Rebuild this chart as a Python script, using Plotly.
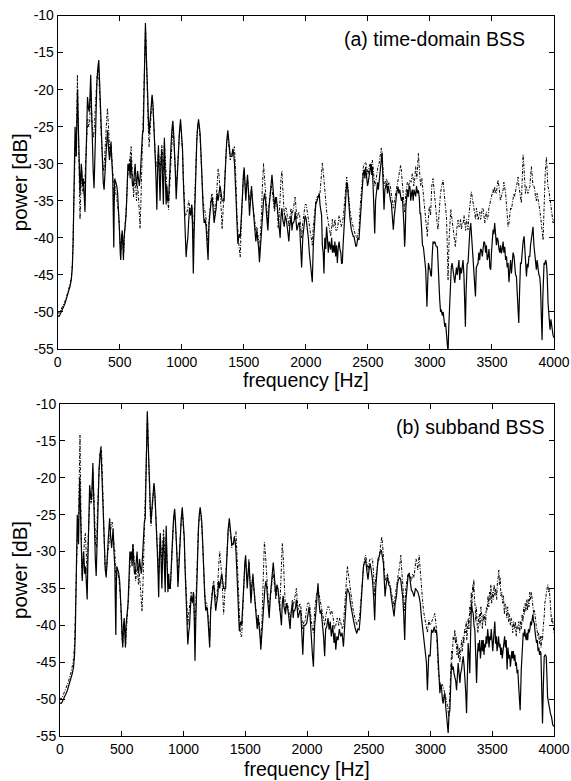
import plotly.graph_objects as go

# ---------------- data (frequency [Hz], power [dB]) ----------------
solid_lo = [(0,-50.5),(10,-50.6),(20,-50.3),(30,-50.0),(40,-49.6),(50,-49.2),(60,-48.8),(70,-48.3),(80,-47.8),(90,-47.2),(100,-46.5),(110,-45.6),(118,-44),(124,-41),(130,-36),(135,-30),(140,-25),(145,-27),(150,-29),(155,-24),(160,-20),(165,-24),(170,-28),(175,-31),(180,-34),(185,-32),(190,-30),(195,-31),(200,-33),(207,-32),(214,-34),(220,-36.5),(226,-31),(232,-25),(240,-21),(248,-22.5),(255,-23),(260,-21),(266,-18),(272,-22),(278,-27),(286,-31),(293,-33.3),(300,-28),(309,-23),(316,-19),(324,-17),(331,-16),(338,-19),(347,-23),(354,-27),(360,-30),(367,-32.5),(374,-33.5),(382,-30),(390,-28.5),(396,-27),(402,-25.5),(410,-28),(418,-29.5),(425,-28),(430,-27),(437,-30),(444,-32),(448,-37),(452,-41.3),(456,-35),(460,-32),(468,-32.5),(476,-33),(483,-34),(490,-36),(498,-39),(504,-42),(508,-43),(514,-40),(520,-39),(525,-41),(530,-43),(535,-40),(542,-39),(551,-37),(560,-33),(566,-30),(572,-31),(578,-30),(584,-32),(590,-29),(596,-31),(603,-33),(610,-33),(617,-31),(624,-30),(630,-32),(637,-33),(644,-31),(651,-32),(658,-33),(664,-32),(670,-30),(677,-28),(683,-26),(690,-25.5),(695,-20),(700,-15),(707,-11),(713,-15),(718,-19),(722,-20),(726,-21),(731,-24),(737,-26),(743,-24.5),(748,-23),(755,-21),(761,-20.7),(768,-22),(777,-25),(783,-28),(788,-30),(794,-33),(799,-36.2),(805,-31),(812,-27.5),(818,-31),(825,-35),(832,-30),(839,-28),(845,-32),(852,-35.5),(856,-30),(860,-26.5),(866,-31),(874,-35.5),(880,-33),(886,-35),(893,-35),(900,-33),(906,-30),(912,-28),(920,-25.5),(928,-24.2),(935,-26),(941,-28),(948,-31),(955,-34.8),(962,-32),(968,-30),(974,-28),(982,-25.5),(990,-24),(998,-26),(1006,-28),(1012,-32),(1019,-36),(1027,-40),(1035,-42.6),(1042,-41),(1049,-40),(1055,-38),(1062,-36),(1068,-36.5),(1073,-37),(1080,-35.5),(1084,-36),(1088,-40),(1093,-44.8),(1100,-39),(1108,-33),(1115,-29),(1121,-27),(1128,-25),(1135,-24),(1142,-25),(1148,-26),(1156,-29),(1164,-33),(1172,-36),(1180,-38),(1188,-37.5),(1196,-38.5),(1204,-41),(1212,-43),(1220,-38),(1229,-36),(1237,-35),(1245,-34.5),(1253,-36),(1261,-38),(1268,-37),(1277,-36),(1285,-34),(1293,-35),(1300,-34),(1309,-33),(1317,-34),(1325,-35),(1333,-35),(1341,-35),(1348,-32),(1355,-29),(1362,-27),(1371,-25.5),(1378,-27),(1384,-28.5),(1391,-29),(1398,-29),(1405,-29),(1411,-28),(1418,-28.5),(1425,-30),(1432,-32),(1438,-35),(1445,-38),(1452,-40.8),(1458,-40),(1464,-39.5),(1471,-40),(1478,-38),(1484,-37),(1490,-34),(1497,-31.5),(1503,-30.5),(1510,-33),(1516,-35),(1523,-33),(1530,-31.5),(1538,-34),(1546,-37),(1554,-35),(1562,-33),(1570,-35),(1578,-36.5),(1588,-38),(1597,-40.5),(1605,-39),(1613,-40),(1620,-41.5),(1626,-43.3),(1634,-41),(1642,-40),(1650,-37),(1659,-35),(1667,-34),(1675,-35),(1684,-37),(1694,-39),(1703,-36),(1712,-34),(1720,-32.5),(1727,-31.5),(1734,-33),(1741,-35),(1748,-36),(1756,-34.5),(1764,-35),(1771,-36),(1779,-37.5),(1786,-39),(1793,-40),(1800,-37),(1807,-36),(1814,-37.5),(1820,-38),(1826,-38.5),(1834,-37),(1842,-37.5),(1850,-38.5),(1857,-39.5),(1863,-40.5),(1870,-38.5),(1876,-37.5),(1882,-37),(1888,-39),(1894,-38),(1901,-38),(1908,-37.5),(1914,-36.5),(1921,-38),(1928,-39),(1935,-38.5),(1942,-38),(1949,-38),(1956,-40),(1966,-44),(1975,-40)]

a_solid_hi = [(1985,-38),(1994,-37),(2003,-37.5),(2012,-38.5),(2020,-40),(2028,-42),(2039,-44.3),(2046,-45),(2052,-46),(2060,-41),(2071,-37),(2080,-35.5),(2092,-34.9),(2100,-34.5),(2108,-34),(2114,-35.5),(2120,-36),(2127,-37),(2133,-41),(2140,-42),(2146,-44.8),(2153,-40),(2160,-41.5),(2167,-38.5),(2174,-40),(2181,-42),(2188,-40.5),(2194,-41),(2200,-41.6),(2208,-40),(2214,-42),(2221,-41),(2227,-42),(2234,-40.5),(2240,-42.5),(2247,-41),(2254,-43.4),(2260,-41.5),(2268,-40.5),(2275,-41.6),(2282,-42),(2288,-43.5),(2294,-43.4),(2300,-41),(2306,-39),(2313,-36.7),(2320,-34),(2329,-32.5),(2336,-33),(2342,-34.5),(2348,-36.2),(2356,-37.5),(2367,-38.9),(2375,-39.5),(2382,-39.8),(2388,-39.8),(2396,-40.5),(2403,-41.2),(2410,-41),(2418,-40),(2428,-40.3),(2436,-38),(2441,-36),(2447,-34.4),(2455,-32.5),(2463,-31.3),(2470,-30.8),(2476,-32),(2482,-30.4),(2490,-31.5),(2497,-33),(2503,-32.5),(2510,-31.5),(2517,-31.3),(2524,-30),(2530,-31.5),(2536,-30.4),(2542,-33),(2548,-37),(2555,-39.4),(2562,-35),(2571,-33.5),(2578,-32.5),(2584,-33.5),(2590,-32.2),(2597,-31),(2603,-30),(2608,-29.5),(2614,-28.5),(2620,-32),(2626,-35),(2630,-36.2),(2637,-33.5),(2644,-33),(2651,-32.6),(2658,-34),(2664,-33),(2670,-33.5),(2677,-34.5),(2683,-35),(2689,-35.3),(2697,-37),(2705,-38.9),(2713,-37),(2718,-35.5),(2724,-35.3),(2732,-34),(2737,-33.5),(2743,-33.1),(2750,-34),(2757,-33.5),(2764,-34.4),(2771,-35),(2778,-34.5),(2786,-36.2),(2791,-38.5),(2796,-41.2),(2800,-40),(2806,-36),(2812,-33.5),(2818,-33.5),(2825,-34.5),(2832,-33),(2839,-33.1),(2845,-35),(2852,-34),(2858,-33.5),(2865,-35),(2872,-33.5),(2879,-34),(2885,-34.4),(2892,-33),(2900,-34),(2907,-33.6),(2914,-34.5),(2920,-36.7),(2925,-36.7),(2932,-38.5),(2940,-41),(2947,-41.2),(2954,-42),(2960,-43.3),(2966,-44.3),(2972,-47),(2976,-49.3),(2982,-46),(2988,-43.4),(2995,-44),(3001,-44.3),(3006,-45),(3012,-45.2),(3018,-42.5),(3025,-40.5),(3033,-40.7),(3040,-40.5),(3047,-41),(3053,-41.2),(3060,-41.2),(3066,-44),(3072,-47.5),(3079,-48.4),(3086,-50),(3092,-49.7),(3100,-50.5),(3107,-50),(3114,-51.1),(3120,-52),(3126,-51.5),(3133,-52.9),(3140,-54),(3146,-55.5),(3152,-52),(3160,-48.8),(3166,-46),(3172,-44),(3179,-43.4),(3186,-44.5),(3193,-45.5),(3200,-46.1),(3207,-45),(3214,-44),(3220,-45),(3227,-44.3),(3234,-43),(3240,-45.7),(3247,-44),(3254,-44.8),(3260,-43.5),(3267,-43),(3274,-45),(3280,-49),(3286,-52),(3292,-47),(3300,-43.5),(3307,-43.4),(3314,-41),(3322,-39),(3329,-38),(3336,-40),(3342,-42),(3348,-42.5),(3355,-44),(3361,-46),(3367,-47.9),(3374,-44),(3381,-43.5),(3388,-43.4),(3394,-42),(3401,-43),(3408,-41.5),(3415,-41.6),(3422,-42.5),(3428,-41),(3435,-40.5),(3442,-40.7),(3449,-42),(3455,-41),(3462,-43),(3469,-42.5),(3476,-41.5),(3483,-44),(3490,-44.3),(3496,-42),(3502,-40.5),(3509,-38.9),(3515,-39.5),(3522,-38.0),(3529,-39.5),(3536,-41),(3542,-40),(3549,-40.3),(3556,-41.5),(3563,-42),(3569,-41),(3576,-42.1),(3583,-41.5),(3590,-40.5),(3596,-42),(3603,-41.2),(3610,-43),(3617,-42.5),(3623,-44),(3630,-43.4),(3637,-46),(3643,-44),(3650,-43),(3657,-44.8),(3664,-43.5),(3670,-42),(3678,-42.5),(3684,-44),(3690,-45),(3697,-45.2),(3704,-47),(3710,-49.5),(3716,-51.5),(3723,-47),(3730,-43.4),(3737,-43.4),(3744,-41.5),(3751,-40.5),(3759,-39.8),(3765,-42),(3771,-44),(3778,-45.2),(3785,-43.5),(3791,-44),(3798,-42.5),(3805,-42.5),(3811,-41),(3818,-40),(3825,-39.5),(3831,-38.5),(3838,-41),(3845,-42.5),(3851,-43),(3858,-44.3),(3864,-43),(3871,-44.5),(3878,-45),(3885,-45.2),(3891,-46.5),(3897,-50),(3904,-53.8),(3910,-48),(3915,-44),(3920,-43.4),(3927,-43.5),(3933,-43),(3939,-43.4),(3945,-45),(3952,-48.8),(3958,-50),(3963,-52),(3968,-52.4),(3975,-51),(3981,-51.5),(3987,-52.5),(3993,-53.2),(4000,-53.5)]

a_dotted_lo = [(0,-50.0),(10,-50.2),(20,-49.9),(30,-49.6),(40,-49.3),(50,-48.9),(60,-48.5),(70,-48.0),(80,-47.5),(90,-46.9),(100,-46.2),(110,-45.3),(118,-43.5),(124,-40),(130,-35),(136,-30),(142,-27),(148,-29),(153,-24),(159,-18),(164,-23),(170,-30),(175,-34),(180,-37.5),(186,-34),(192,-31),(198,-33),(205,-34),(212,-33),(220,-32),(227,-29),(234,-25.5),(242,-24),(250,-25),(258,-24.5),(266,-20),(272,-23),(280,-25.5),(288,-26.5),(296,-25),(304,-22),(312,-19),(320,-17.5),(328,-17),(335,-19),(342,-22),(350,-26),(357,-29),(364,-30),(372,-31),(380,-28),(388,-26),(395,-24),(401,-22.5),(408,-25),(415,-28),(422,-29),(430,-27.5),(437,-29),(444,-31),(452,-35),(460,-33),(468,-34),(476,-34.5),(484,-36),(492,-37),(500,-40),(508,-42),(515,-40),(520,-39.5),(526,-40.5),(532,-42),(540,-39),(548,-37.5),(556,-35),(563,-32),(570,-31),(578,-30.5),(585,-29),(592,-27.7),(598,-30),(605,-33.5),(612,-34.5),(620,-32),(627,-32.5),(635,-35),(642,-33),(650,-34),(657,-36.5),(664,-38.7),(671,-35),(678,-30),(685,-27),(692,-24),(698,-17),(703,-13),(708,-11.5),(713,-14),(718,-19.5),(722,-21.5),(726,-23),(731,-25.5),(737,-27.7),(743,-26),(749,-24),(755,-22),(761,-21),(768,-22.5),(777,-26),(785,-28),(792,-30.5),(799,-30),(806,-29),(812,-28.5),(818,-29.5),(825,-31),(832,-29),(839,-27.5),(845,-29),(852,-31),(860,-27),(867,-29.5),(874,-32),(882,-34),(893,-36.2),(900,-34),(907,-31),(914,-28),(921,-26),(928,-25),(935,-26.5),(942,-29),(949,-31),(955,-33),(962,-31.5),(968,-29.5),(975,-27.5),(982,-25.5),(990,-24.5),(998,-26),(1006,-28.5),(1013,-32),(1020,-35),(1027,-37),(1035,-37),(1042,-36.5),(1049,-36),(1055,-35),(1062,-35.5),(1068,-36.5),(1073,-36),(1080,-36.5),(1087,-38),(1093,-40),(1100,-37),(1108,-32),(1115,-28.5),(1121,-26.5),(1128,-25),(1135,-24.5),(1142,-25.5),(1148,-26.5),(1156,-29.5),(1164,-33),(1172,-35),(1180,-36),(1188,-36.5),(1196,-37.5),(1204,-39.5),(1212,-41),(1220,-37.5),(1229,-35.5),(1237,-34.5),(1245,-34),(1253,-35),(1261,-36.5),(1270,-37),(1277,-35),(1285,-32.5),(1293,-30.7),(1300,-31.5),(1309,-33.5),(1317,-36),(1325,-38.8),(1333,-36),(1341,-33),(1348,-30.5),(1355,-28.5),(1362,-27),(1371,-26.5),(1378,-27.5),(1384,-28.5),(1391,-29.5),(1398,-29),(1405,-28.5),(1411,-28.2),(1418,-28),(1425,-27.7),(1432,-30),(1438,-33),(1445,-37),(1452,-40),(1458,-40.5),(1464,-41.5),(1471,-42.6),(1478,-39),(1484,-36),(1490,-33.5),(1497,-31.5),(1503,-31),(1510,-32.5),(1516,-34),(1523,-33),(1530,-32),(1538,-33.5),(1546,-35),(1554,-34),(1562,-33.5),(1570,-35),(1578,-36),(1588,-37.5),(1597,-39),(1605,-38.5),(1613,-39.5),(1620,-40.5),(1626,-42),(1634,-40),(1642,-37),(1650,-33),(1659,-30),(1667,-32),(1675,-34),(1684,-36),(1694,-38),(1703,-35.5),(1712,-34),(1720,-33),(1727,-33.5),(1734,-34.5),(1741,-35),(1748,-36.5),(1756,-35),(1764,-34.5),(1771,-36.5),(1777,-38.7),(1786,-37),(1793,-34),(1800,-32),(1807,-31),(1814,-33.5),(1820,-36),(1826,-37),(1834,-36),(1842,-36),(1850,-37),(1857,-37.5),(1863,-38.5),(1870,-37),(1876,-36.5),(1882,-36),(1888,-37),(1894,-36.5),(1901,-36),(1908,-35),(1914,-34.5),(1921,-36),(1928,-37.5),(1935,-37),(1942,-36.5),(1950,-37),(1958,-38.5),(1966,-40),(1975,-38)]

a_dotted_hi = [(1985,-36.2),(1994,-35.5),(2003,-35.5),(2012,-36.5),(2020,-37.5),(2030,-38.5),(2039,-39.5),(2052,-41),(2060,-38.5),(2071,-36),(2080,-35),(2092,-34.4),(2100,-34.5),(2114,-34),(2122,-32),(2133,-29.9),(2140,-31),(2146,-32.2),(2153,-34),(2160,-35.3),(2168,-36.5),(2178,-37.6),(2188,-38.5),(2200,-39.8),(2208,-38.5),(2214,-37.5),(2220,-38.5),(2227,-38.5),(2235,-37.5),(2242,-39),(2254,-38.9),(2262,-38),(2268,-37),(2275,-37.5),(2284,-38.5),(2294,-38),(2303,-37),(2313,-35),(2320,-33),(2329,-31.8),(2338,-33),(2348,-35),(2357,-36.5),(2367,-37.5),(2377,-38.5),(2388,-39),(2398,-39.5),(2410,-40),(2419,-39.5),(2428,-39),(2437,-36),(2447,-33.5),(2455,-31.5),(2463,-30.5),(2472,-30),(2482,-29.8),(2491,-30.5),(2501,-31.5),(2509,-30.5),(2517,-30),(2527,-30.5),(2536,-29.5),(2545,-31),(2555,-33),(2563,-32.5),(2571,-31.5),(2580,-30.5),(2590,-30),(2599,-28.8),(2608,-27.9),(2614,-28.5),(2620,-30),(2630,-33),(2640,-32.5),(2651,-32),(2660,-33),(2670,-32.5),(2680,-33),(2689,-34),(2697,-35),(2705,-36),(2714,-35),(2724,-34),(2734,-33.5),(2743,-32.5),(2753,-31.5),(2764,-30.2),(2770,-31),(2775,-32),(2781,-33),(2786,-34),(2791,-35),(2796,-36.5),(2806,-34),(2812,-33),(2818,-32.5),(2828,-33),(2839,-32.2),(2848,-32.5),(2858,-31.3),(2865,-32),(2870,-33),(2878,-32),(2885,-30.4),(2895,-32),(2901,-30.5),(2907,-28.6),(2912,-30),(2918,-31),(2925,-33),(2935,-32),(2947,-34.4),(2958,-36.5),(2966,-37.6),(2972,-38.5),(2979,-39.8),(2985,-38),(2995,-35.8),(3005,-37),(3015,-33),(3025,-32),(3032,-33.5),(3039,-34.4),(3050,-37),(3058,-38),(3065,-38.9),(3075,-36),(3085,-34),(3095,-33),(3106,-32.2),(3115,-34),(3125,-35.5),(3133,-37.1),(3140,-41),(3146,-45.7),(3155,-40),(3168,-36.2),(3178,-37.5),(3187,-38.9),(3196,-40),(3205,-41.2),(3215,-39),(3227,-37.6),(3234,-38.5),(3240,-38.5),(3247,-37.5),(3254,-38.9),(3261,-38),(3268,-38),(3275,-37),(3281,-38.5),(3288,-39),(3294,-37.5),(3300,-38.5),(3307,-38.9),(3314,-37),(3320,-36),(3327,-35),(3334,-33.8),(3341,-34.5),(3348,-35.5),(3355,-36),(3361,-36.7),(3368,-37.5),(3375,-36),(3381,-37),(3388,-37.6),(3395,-37),(3402,-36.5),(3408,-37.5),(3415,-37.1),(3421,-36),(3428,-36),(3435,-37),(3442,-38.0),(3449,-37),(3455,-36.5),(3462,-37.5),(3469,-37.1),(3475,-36),(3482,-35.5),(3489,-35),(3496,-34.4),(3502,-34),(3509,-33.5),(3515,-34),(3522,-33.1),(3529,-34),(3536,-34),(3542,-33),(3549,-32.2),(3556,-33),(3562,-34),(3569,-35),(3576,-34.4),(3583,-34),(3590,-33.5),(3596,-32.5),(3603,-33.1),(3610,-34),(3617,-35.5),(3623,-37),(3630,-38.5),(3637,-38),(3643,-37),(3650,-36),(3657,-36.2),(3664,-35.5),(3670,-35),(3677,-34),(3684,-34.4),(3690,-33.5),(3697,-33),(3704,-32.5),(3710,-31.8),(3717,-33),(3723,-34),(3730,-34.5),(3737,-35.3),(3744,-32),(3751,-28.8),(3756,-30),(3760,-31.5),(3765,-33),(3770,-34),(3778,-33.1),(3784,-33.5),(3790,-34),(3798,-33.5),(3805,-33.1),(3812,-31.5),(3818,-30.4),(3824,-31.5),(3830,-33),(3838,-33),(3845,-33.5),(3851,-34.5),(3858,-35),(3864,-34),(3870,-34.5),(3878,-35.5),(3885,-36.2),(3891,-37),(3898,-38),(3905,-39.5),(3912,-40.3),(3918,-37),(3924,-33),(3930,-31),(3935,-30),(3939,-29.1),(3945,-31),(3950,-33),(3958,-33.5),(3966,-34.4),(3973,-35.5),(3980,-36.5),(3987,-37),(3993,-38.0),(4000,-37.5)]

b_dotted_lo = [(0,-49.8),(10,-50),(20,-49.7),(30,-49.3),(40,-49),(50,-48.5),(60,-48),(70,-47.5),(80,-47),(90,-46.3),(100,-45.5),(110,-44.5),(118,-42.5),(124,-39),(130,-34),(136,-29),(142,-27),(148,-27.5),(153,-22),(158,-15.5),(162,-14.2),(166,-20),(170,-27),(175,-31),(180,-33.5),(186,-31),(192,-30),(198,-28.5),(205,-27.5),(212,-30),(220,-33),(227,-29),(234,-25),(242,-22.5),(250,-23.5),(258,-23),(266,-19),(272,-21),(280,-25),(288,-29),(296,-29.5),(304,-24),(312,-20),(320,-17.5),(328,-16),(335,-15.7),(342,-19),(350,-25),(357,-28),(364,-32),(372,-33),(380,-32),(388,-30),(395,-29),(401,-28.5),(408,-27.5),(415,-26.5),(422,-26),(430,-27),(437,-29),(444,-30),(452,-34),(460,-33),(468,-33),(476,-33.5),(484,-35),(492,-37),(500,-41),(508,-42.5),(515,-41),(520,-40),(526,-41),(532,-42.5),(540,-40),(548,-38.5),(556,-36),(563,-33),(570,-31),(578,-30.5),(585,-30),(592,-29),(598,-30),(605,-32),(612,-34),(620,-33),(627,-32),(635,-34.5),(642,-33),(650,-34.5),(657,-36.5),(664,-38.1),(671,-35),(678,-30),(685,-27),(692,-24),(698,-17),(703,-12.5),(708,-11.3),(713,-14),(718,-19),(722,-21),(726,-22.5),(731,-25),(737,-26.5),(743,-25),(749,-23),(755,-21.5),(761,-21),(768,-22.5),(777,-25.5),(785,-28),(792,-31),(799,-33),(806,-30),(812,-28),(818,-29.5),(825,-32),(832,-29),(839,-27),(845,-29.5),(852,-33),(860,-28),(867,-31),(874,-34),(882,-34.5),(893,-35),(900,-33),(907,-30),(914,-27.5),(921,-25.5),(928,-24.5),(935,-26),(942,-28.5),(949,-31),(955,-34),(962,-31.5),(968,-29.5),(975,-27.5),(982,-25.5),(990,-24.5),(998,-26),(1006,-28.5),(1013,-32),(1020,-35.5),(1027,-38.5),(1035,-40),(1042,-38.5),(1049,-37.5),(1055,-36.5),(1062,-35.5),(1068,-36),(1073,-36.5),(1080,-36),(1087,-38.5),(1093,-41),(1100,-37),(1108,-32.5),(1115,-28.5),(1121,-26.5),(1128,-25),(1135,-24.3),(1142,-25.3),(1148,-26.5),(1156,-29.5),(1164,-33),(1172,-35.5),(1180,-37),(1188,-37),(1196,-38),(1204,-40),(1212,-42),(1220,-38),(1229,-35.5),(1237,-34.5),(1245,-34),(1253,-35),(1261,-36.5),(1270,-36.5),(1277,-35),(1285,-32),(1293,-30),(1300,-31),(1309,-33),(1317,-35.5),(1325,-38.5),(1333,-36),(1341,-33),(1348,-30.5),(1355,-28.5),(1362,-27),(1371,-26),(1378,-27.5),(1384,-28.5),(1391,-29.5),(1398,-29),(1405,-28.5),(1411,-28),(1418,-27.5),(1425,-27.3),(1432,-30),(1438,-33),(1445,-37),(1452,-40),(1458,-40.5),(1464,-41.5),(1471,-41.5),(1478,-39),(1484,-36),(1490,-33.5),(1497,-31.5),(1503,-31),(1510,-32.5),(1516,-34),(1523,-33),(1530,-31),(1538,-33.5),(1546,-35.5),(1554,-34),(1562,-33.5),(1570,-35),(1578,-36),(1588,-38),(1597,-39.5),(1605,-38.5),(1613,-39.5),(1620,-41),(1626,-42.5),(1634,-40),(1642,-36),(1650,-31.5),(1655,-28.7),(1662,-30),(1669,-32.5),(1675,-34),(1684,-36),(1694,-38),(1703,-36),(1712,-34.5),(1720,-33.5),(1727,-33),(1734,-34),(1741,-35),(1748,-36.5),(1756,-35),(1764,-35),(1771,-36.5),(1779,-38),(1786,-35),(1793,-31),(1800,-28.9),(1807,-30.5),(1814,-33),(1820,-36),(1826,-38),(1834,-37.5),(1842,-37),(1850,-38),(1857,-38.5),(1863,-39.5),(1870,-38),(1876,-37),(1882,-36.5),(1888,-37.5),(1894,-37),(1901,-36.5),(1908,-35.5),(1914,-35),(1921,-36.5),(1928,-38),(1935,-37.5),(1942,-37),(1950,-37.5),(1958,-39),(1966,-40.5),(1975,-39.5)]

b_solid_hi = [(1985,-40),(1998,-39.7),(2008,-38),(2017,-37.5),(2026,-39),(2035,-42),(2044,-44),(2052,-45.6),(2062,-40),(2071,-38.4),(2080,-36),(2089,-34.3),(2098,-37),(2106,-38.4),(2115,-38),(2125,-39.7),(2134,-41.5),(2143,-44.2),(2151,-40.5),(2160,-40.2),(2170,-39),(2179,-40.6),(2188,-39.5),(2197,-41.5),(2208,-40),(2219,-42.4),(2226,-41),(2233,-43.3),(2242,-41.5),(2251,-42),(2262,-40.5),(2273,-41.5),(2284,-41),(2295,-42.9),(2304,-40),(2314,-37.5),(2320,-36),(2327,-35),(2335,-35.5),(2343,-35.7),(2351,-37),(2359,-37.9),(2370,-39),(2381,-39.7),(2392,-40.5),(2403,-41.1),(2412,-40.5),(2422,-40.6),(2431,-39),(2440,-37),(2448,-34),(2457,-32),(2466,-31.5),(2475,-31.1),(2484,-32.5),(2494,-33.8),(2502,-32.5),(2511,-31.6),(2520,-32.5),(2530,-33.8),(2539,-36),(2548,-39.3),(2556,-35),(2565,-32.9),(2575,-31),(2584,-30.7),(2593,-30),(2602,-29.8),(2610,-30.5),(2619,-31.6),(2626,-34),(2632,-36.1),(2641,-34.5),(2651,-33.4),(2662,-34.5),(2673,-34.8),(2681,-36),(2689,-37),(2697,-38),(2705,-38.8),(2714,-37),(2724,-36.1),(2732,-34.5),(2740,-33.8),(2750,-33.5),(2759,-33.8),(2767,-35),(2775,-36.1),(2783,-38.5),(2791,-42),(2799,-37),(2808,-35.2),(2817,-33.5),(2827,-32.9),(2836,-34),(2845,-35.2),(2856,-35.5),(2867,-36.1),(2878,-35),(2889,-35.2),(2898,-35.5),(2908,-36.1),(2917,-37),(2926,-38.8),(2935,-40),(2943,-41.5),(2951,-42.5),(2959,-43.3),(2967,-45),(2975,-48.8),(2986,-44),(2997,-44.2),(3008,-40.6),(3019,-41),(3030,-40.2),(3039,-41),(3048,-40.6),(3055,-42),(3062,-44.2),(3069,-47),(3076,-49.2),(3083,-48),(3089,-48.3),(3096,-50),(3103,-50.6),(3110,-49.5),(3116,-49.2),(3123,-51),(3130,-52.4),(3137,-54),(3143,-54.6),(3150,-52),(3157,-51.5),(3164,-48),(3170,-45.1),(3177,-46),(3184,-45.6),(3190,-46.5),(3197,-46.9),(3204,-47.5),(3211,-48.8),(3217,-46),(3224,-45.1),(3231,-46.5),(3238,-47.8),(3244,-46.5),(3251,-46),(3258,-45),(3265,-44.2),(3272,-45.5),(3278,-46.9),(3285,-49),(3292,-51.9),(3298,-47),(3305,-42.4),(3312,-44),(3318,-46.5),(3325,-41),(3332,-37),(3339,-38),(3346,-38.4),(3352,-40),(3359,-40.6),(3366,-44),(3373,-47.8),(3380,-44),(3386,-42.4),(3392,-43.5),(3398,-42),(3404,-44.5),(3410,-43),(3416,-42),(3421,-43.5),(3427,-42),(3433,-44),(3439,-42.5),(3445,-43),(3451,-41.5),(3457,-42.5),(3463,-40.5),(3468,-41.5),(3474,-43),(3480,-41.5),(3486,-42),(3492,-40.5),(3498,-42),(3504,-43.5),(3510,-42),(3516,-40.5),(3521,-39.5),(3527,-42.5),(3533,-41.5),(3539,-43.5),(3545,-42),(3551,-41.5),(3557,-43),(3563,-42.5),(3569,-44),(3575,-43),(3581,-44.5),(3588,-43),(3594,-42.5),(3600,-41.5),(3606,-43),(3613,-42),(3620,-46),(3627,-43),(3634,-44.5),(3641,-44),(3647,-45.6),(3653,-44),(3659,-43.5),(3665,-44.5),(3671,-43.5),(3677,-44.8),(3683,-44),(3689,-45.5),(3695,-45),(3701,-46.5),(3707,-46),(3713,-48),(3719,-49.5),(3726,-51.5),(3735,-46),(3745,-42.4),(3751,-41),(3757,-41.5),(3763,-40.5),(3769,-41.5),(3775,-42),(3781,-41),(3787,-42),(3793,-40.5),(3799,-41),(3805,-40.5),(3811,-39.5),(3817,-40),(3823,-39.3),(3829,-38.5),(3835,-39.5),(3841,-39.7),(3847,-41),(3853,-41.5),(3859,-42.4),(3865,-42),(3871,-43.5),(3877,-43),(3883,-44),(3889,-43.5),(3894,-43.8),(3900,-48),(3907,-53.3),(3914,-48),(3921,-44.2),(3929,-44),(3937,-44.2),(3943,-47),(3948,-49.7),(3956,-50.5),(3964,-51.5),(3972,-52),(3980,-52.4),(3990,-53.5),(4000,-53.7)]

b_dotted_hi = [(1985,-39.5),(1995,-38),(2005,-37),(2020,-37),(2035,-39.5),(2052,-41),(2062,-38),(2075,-36),(2089,-35),(2100,-36),(2112,-37),(2125,-38),(2135,-39),(2143,-40),(2155,-38.5),(2167,-37.5),(2179,-37.5),(2190,-38.5),(2200,-38),(2212,-39),(2222,-40.5),(2233,-40),(2245,-39),(2257,-40),(2265,-39),(2273,-39.5),(2285,-40.5),(2295,-40),(2305,-37),(2315,-34),(2322,-33),(2327,-32),(2335,-33),(2345,-34.5),(2359,-36.5),(2370,-37.5),(2381,-38.5),(2392,-39.5),(2403,-40),(2414,-39.5),(2425,-39),(2432,-37.5),(2440,-36),(2450,-33),(2460,-31.5),(2468,-31),(2475,-30.5),(2484,-31.5),(2494,-32.5),(2503,-31.5),(2511,-31),(2520,-31),(2530,-31),(2539,-33),(2548,-36),(2557,-33.5),(2566,-32),(2575,-31.5),(2584,-31),(2593,-29.5),(2600,-28.5),(2605,-28),(2612,-29),(2620,-31),(2626,-33),(2632,-34),(2642,-33.5),(2651,-33),(2662,-34),(2673,-34.5),(2683,-35.5),(2693,-36.5),(2705,-37.5),(2714,-36),(2724,-34.5),(2732,-33.5),(2740,-33),(2750,-32),(2760,-30.5),(2767,-32.5),(2775,-34.5),(2783,-36),(2791,-38),(2800,-35),(2810,-33.5),(2818,-33),(2827,-33),(2836,-33.5),(2845,-34),(2856,-33),(2867,-33.5),(2876,-32),(2883,-31),(2890,-31.5),(2897,-32.5),(2908,-30.5),(2917,-33),(2926,-35),(2935,-36.5),(2943,-38),(2953,-39),(2963,-40),(2975,-41),(2986,-39.3),(2997,-40),(3010,-39.5),(3022,-38.8),(3035,-38.4),(3048,-40.5),(3055,-43),(3062,-46),(3073,-47.5),(3084,-48.3),(3094,-48),(3103,-48.3),(3113,-49),(3122,-49.7),(3130,-50.5),(3138,-51),(3148,-52.4),(3157,-48),(3165,-45.1),(3171,-43.5),(3176,-44.5),(3184,-41.5),(3190,-42),(3197,-40.6),(3203,-42.5),(3208,-41.5),(3214,-44),(3220,-42.5),(3226,-44.5),(3233,-43),(3238,-45),(3246,-43.5),(3252,-42),(3258,-43.5),(3265,-41.5),(3270,-42.5),(3276,-40.5),(3283,-41),(3289,-39.5),(3294,-42),(3300,-41),(3306,-39),(3311,-40.5),(3318,-37.5),(3324,-38.5),(3330,-35.5),(3336,-37),(3342,-34.5),(3347,-35.5),(3351,-33.8),(3356,-36.5),(3362,-37.5),(3367,-39.5),(3372,-37.5),(3378,-40),(3384,-41),(3390,-39),(3396,-38.5),(3401,-40),(3408,-37.5),(3414,-38.5),(3420,-40.5),(3427,-38.5),(3433,-39.5),(3440,-38.5),(3446,-40),(3452,-37.5),(3459,-38),(3466,-36),(3472,-37.5),(3478,-35.5),(3484,-36.5),(3489,-34.5),(3495,-37),(3502,-35.5),(3508,-36.5),(3515,-34.5),(3522,-36),(3529,-35),(3536,-36.5),(3542,-34),(3548,-33.5),(3553,-32.5),(3558,-34.5),(3564,-33.5),(3570,-36),(3577,-35.5),(3584,-37),(3591,-36),(3598,-38.5),(3604,-37),(3611,-37.5),(3618,-39),(3625,-37.5),(3632,-39.5),(3639,-38.5),(3646,-40),(3652,-39),(3659,-39.5),(3666,-41),(3673,-39.5),(3680,-40.5),(3687,-39.5),(3694,-41.5),(3701,-40),(3708,-40.5),(3715,-39.5),(3722,-41),(3729,-39.5),(3736,-40.5),(3742,-38.5),(3749,-39.5),(3755,-37.5),(3761,-38.5),(3767,-37),(3773,-38),(3780,-36.5),(3786,-38),(3792,-36.5),(3798,-37.5),(3804,-35.5),(3811,-36.5),(3817,-35.5),(3824,-37),(3830,-37.5),(3836,-38.5),(3842,-38),(3849,-39.5),(3856,-40),(3862,-40.5),(3869,-41.5),(3876,-41),(3882,-42.5),(3889,-41.5),(3895,-43),(3901,-41.5),(3907,-42),(3913,-40),(3920,-39),(3926,-37),(3932,-36),(3938,-35.5),(3944,-35),(3950,-34.5),(3956,-35.5),(3962,-35),(3968,-37),(3974,-37.5),(3980,-39.5),(3986,-39),(3992,-40.5),(4000,-41)]

x_ticks = [0, 500, 1000, 1500, 2000, 2500, 3000, 3500, 4000]
y_ticks = [-55, -50, -45, -40, -35, -30, -25, -20, -15, -10]
panel_labels = ["(a) time-domain BSS", "(b) subband BSS"]
x_title = "frequency [Hz]"
y_title = "power [dB]"

# ---------------- figure ----------------
W, H = 571, 781
FONT = "Liberation Sans, Arial, Helvetica, sans-serif"

def split(pairs):
    return [p[0] for p in pairs], [p[1] for p in pairs]

series = [
    (a_dotted_lo + a_dotted_hi, "x", "y", "dot"),
    (solid_lo + a_solid_hi, "x", "y", "solid"),
    (b_dotted_lo + b_dotted_hi, "x2", "y2", "dot"),
    (solid_lo + b_solid_hi, "x2", "y2", "solid"),
]

fig = go.Figure()
for pairs, xa, ya, style in series:
    fx, fy = split(pairs)
    if style == "solid":
        line = dict(color="black", width=1.2)
    else:
        line = dict(color="black", width=1, dash="3px,1.5px,1px,1.5px")
    fig.add_trace(go.Scatter(x=fx, y=fy, mode="lines", line=line,
                             xaxis=xa, yaxis=ya, showlegend=False, hoverinfo="skip"))

def px(x):
    return x / W

def py(y):
    return 1 - y / H

# panel pixel boxes: (left, right, top, bottom) and label right edges
boxes = [(57.7, 554, 15.5, 349), (60, 554, 404, 736)]
label_right = [527, 547]

axis_common = dict(showline=True, linecolor="black", linewidth=1, mirror="ticks",
                   ticks="inside", ticklen=5, tickcolor="black", tickwidth=1,
                   showgrid=False, zeroline=False, automargin=False,
                   tickfont=dict(family=FONT, size=14, color="black"))

layout = dict(template="none", width=W, height=H,
              margin=dict(l=0, r=0, t=0, b=0, pad=0, autoexpand=False),
              paper_bgcolor="white", plot_bgcolor="white", showlegend=False)

for i, (l, r, t, b) in enumerate(boxes):
    sx = "" if i == 0 else str(i + 1)
    layout["xaxis" + sx] = dict(axis_common, domain=[px(l), px(r)], range=[0, 4000],
                                tickvals=x_ticks, ticktext=[str(v) for v in x_ticks],
                                anchor="y" + sx)
    layout["yaxis" + sx] = dict(axis_common, domain=[py(b), py(t)], range=[-55, -10],
                                tickvals=y_ticks, ticktext=[str(v) for v in y_ticks],
                                anchor="x" + sx)

fig.update_layout(**layout)

annotations = []
for i, (l, r, t, b) in enumerate(boxes):
    annotations.append(dict(text=panel_labels[i], x=px(label_right[i]), y=py(t + 23), xref="paper", yref="paper",
                            xanchor="right", yanchor="middle", showarrow=False,
                            font=dict(family=FONT, size=19.5, color="black")))
    annotations.append(dict(text=x_title, x=px((l + r) / 2), y=py(b + 31 + 2 * i), xref="paper", yref="paper",
                            xanchor="center", yanchor="middle", showarrow=False,
                            font=dict(family=FONT, size=19.5, color="black")))
    annotations.append(dict(text=y_title, x=px(19), y=py((t + b) / 2), xref="paper", yref="paper",
                            xanchor="center", yanchor="middle", showarrow=False, textangle=-90,
                            font=dict(family=FONT, size=20.5, color="black")))
fig.update_layout(annotations=annotations)

fig.write_html("out.html")
